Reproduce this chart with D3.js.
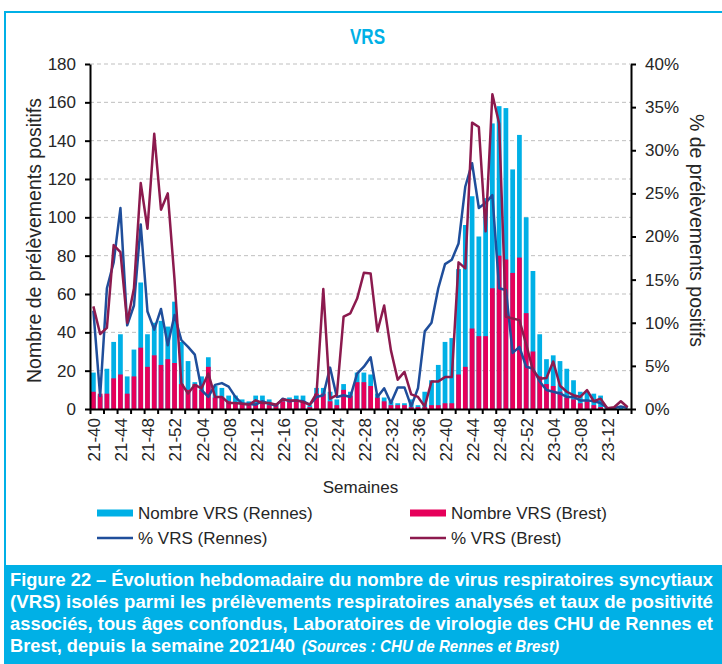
<!DOCTYPE html>
<html>
<head>
<meta charset="utf-8">
<script src="https://cdn.jsdelivr.net/npm/d3@7"></script>
<style>
  body { margin: 0; background: #fff; }
  svg { display: block; font-family: "Liberation Sans", Arial, sans-serif; }
</style>
</head>
<body>
<script>
'use strict';

const weeks = [
    '21-40','21-41','21-42','21-43','21-44','21-45','21-46','21-47','21-48','21-49','21-50','21-51','21-52',
    '22-01','22-02','22-03','22-04','22-05','22-06','22-07','22-08','22-09','22-10','22-11','22-12','22-13',
    '22-14','22-15','22-16','22-17','22-18','22-19','22-20','22-21','22-22','22-23','22-24','22-25','22-26',
    '22-27','22-28','22-29','22-30','22-31','22-32','22-33','22-34','22-35','22-36','22-37','22-38','22-39',
    '22-40','22-41','22-42','22-43','22-44','22-45','22-46','22-47','22-48','22-49','22-50','22-51','22-52',
    '23-01','23-02','23-03','23-04','23-05','23-06','23-07','23-08','23-09','23-10','23-11','23-12','23-13',
    '23-14','23-15'
];

const rennesCount = [
    19, 7, 21, 35, 39, 17, 31, 66, 39, 45,
    46, 43, 56, 35, 25, 14, 17, 27, 12, 11,
    7, 7, 5, 4, 7, 7, 5, 3, 5, 6,
    7, 7, 2, 11, 11, 9, 5, 13, 9, 19,
    19, 18, 8, 6, 4, 3, 3, 5, 2, 9,
    15, 23, 35, 37, 73, 96, 111, 90, 110, 149,
    158, 157, 125, 143, 100, 72, 39, 26, 28, 25,
    21, 15, 9, 9, 8, 7, 1, 1, 1, 0
];

const brestCount = [
    9, 8, 8, 16, 18, 8, 17, 32, 22, 28,
    23, 26, 24, 13, 10, 13, 10, 22, 6, 6,
    4, 3, 3, 2, 3, 3, 2, 2, 4, 4,
    4, 4, 1, 8, 8, 4, 2, 10, 7, 14,
    14, 12, 6, 4, 2, 2, 2, 1, 1, 1,
    2, 2, 3, 3, 18, 22, 42, 38, 38, 63,
    80, 78, 71, 79, 50, 30, 17, 13, 12, 9,
    6, 5, 3, 4, 2, 1, 0, 0, 0, 0
];

const rennesPct = [
    11.4, 1.5, 14, 17, 23.3, 9.7, 12, 21.4, 11.3, 9.2,
    11.6, 7.4, 10.9, 8, 7.2, 6.3, 2.2, 1.4, 2.8, 3,
    2.6, 1.4, 0.6, 0.6, 0.5, 0.9, 0.6, 0.4, 1.2, 0.9,
    1, 0.9, 0.5, 1.4, 1.6, 4.8, 1.4, 1.6, 1.4, 4.1,
    4.9, 6, 1.4, 2.4, 0.7, 2.5, 2.5, 0.3, 2.4, 9,
    10, 14, 16.8, 17.3, 19.2, 25.8, 28.5, 23.3, 23.9, 24.8,
    14, 13.8, 6.5, 7.2, 4.9, 4.7, 3.2, 2.2, 2, 1.8,
    1.4, 1.4, 1, 1, 0.9, 0.7, 0.1, 0.1, 0.3, 0.1
];

const brestPct = [
    11.9, 8.7, 9.4, 19, 18.2, 10, 14, 26.2, 20.9, 31.9,
    23.1, 25, 15, 3, 1.8, 2.8, 2.4, 4.1, 1.4, 1.4,
    0.7, 0.7, 0.6, 0.5, 1, 0.7, 0.7, 0.5, 1.1, 1,
    1, 0.8, 0.5, 1.8, 13.9, 1.2, 1.6, 10.7, 11.1, 12.8,
    15.8, 15.7, 9, 12, 6.8, 3.4, 4.3, 1.7, 1.4, 0.3,
    3.2, 3.2, 3.7, 3.7, 17, 16.3, 33.2, 32.7, 20.6, 36.5,
    33.1, 10.7, 10.5, 10.3, 7.5, 4.5, 3.5, 3.6, 5.5, 2.7,
    2, 1.6, 1.4, 2.2, 0.9, 1.2, 0.1, 0.2, 0.9, 0.2
];

const countTicks = [0, 20, 40, 60, 80, 100, 120, 140, 160, 180];
const pctTicks = [0, 5, 10, 15, 20, 25, 30, 35, 40];

const captionLines = [
    'Figure 22 – Évolution hebdomadaire du nombre de virus respiratoires syncytiaux',
    '(VRS) isolés parmi les prélèvements respiratoires analysés et taux de positivité',
    'associés, tous âges confondus, Laboratoires de virologie des CHU de Rennes et'
];
const captionLast = 'Brest, depuis la semaine 2021/40';
const captionSource = '(Sources : CHU de Rennes et Brest)';

const cyan = '#00b0e6';
const pink = '#e6005a';
const blueLine = '#1f4e9b';
const redLine = '#8c1a4e';
const textColor = '#262626';

const plotLeft = 90, plotRight = 631, plotTop = 64, plotBottom = 409;

const svg = d3.select('body').append('svg')
    .attr('width', 722)
    .attr('height', 664);

// frame + caption band
svg.append('rect')
    .attr('x', 5).attr('y', 12)
    .attr('width', 740).attr('height', 700)
    .attr('fill', 'none')
    .attr('stroke', cyan)
    .attr('stroke-width', 2);

svg.append('rect')
    .attr('x', 5).attr('y', 565)
    .attr('width', 730).attr('height', 110)
    .attr('fill', cyan);

svg.append('text')
    .attr('x', 350).attr('y', 44)
    .attr('textLength', 35)
    .attr('lengthAdjust', 'spacingAndGlyphs')
    .style('font-size', '22px')
    .style('font-weight', 'bold')
    .attr('fill', cyan)
    .text('VRS');

const x = d3.scaleBand()
    .domain(weeks)
    .range([plotLeft, plotRight])
    .paddingInner(0.3)
    .paddingOuter(0.15);

const xTicks = d3.scaleLinear()
    .domain([0, weeks.length])
    .range([plotLeft, plotRight]);

const yCount = d3.scaleLinear().domain([0, 180]).range([plotBottom, plotTop]);
const yPct = d3.scaleLinear().domain([0, 40]).range([plotBottom, plotTop]);

// gridlines
svg.append('g')
    .selectAll('line')
    .data(countTicks.filter(d => d > 0))
    .enter().append('line')
    .attr('x1', plotLeft).attr('x2', plotRight)
    .attr('y1', d => yCount(d)).attr('y2', d => yCount(d))
    .attr('stroke', '#bfbfbf')
    .attr('stroke-dasharray', '4,3');

// bars: Rennes behind, Brest in front
svg.append('g')
    .selectAll('rect')
    .data(rennesCount)
    .enter().append('rect')
    .attr('x', (d, i) => x(weeks[i]))
    .attr('width', x.bandwidth())
    .attr('y', d => yCount(d))
    .attr('height', d => plotBottom - yCount(d))
    .attr('fill', cyan);

svg.append('g')
    .selectAll('rect')
    .data(brestCount)
    .enter().append('rect')
    .attr('x', (d, i) => x(weeks[i]))
    .attr('width', x.bandwidth())
    .attr('y', d => yCount(d))
    .attr('height', d => plotBottom - yCount(d))
    .attr('fill', pink);

const pctLine = d3.line()
    .x((d, i) => x(weeks[i]) + x.bandwidth() / 2)
    .y(d => yPct(d));

svg.append('path')
    .datum(rennesPct)
    .attr('d', pctLine)
    .attr('fill', 'none')
    .attr('stroke', blueLine)
    .attr('stroke-width', 2.5)
    .attr('stroke-linejoin', 'round');

svg.append('path')
    .datum(brestPct)
    .attr('d', pctLine)
    .attr('fill', 'none')
    .attr('stroke', redLine)
    .attr('stroke-width', 2.5)
    .attr('stroke-linejoin', 'round');

// axes
function styleAxis(g)
{
    g.select('.domain').attr('stroke', '#000').attr('stroke-width', 2);
    g.selectAll('.tick line').attr('stroke', '#000').attr('stroke-width', 2);
    g.selectAll('.tick text')
        .attr('fill', textColor)
        .style('font-size', '17px')
        .style('font-family', '"Liberation Sans", Arial, sans-serif');
}

svg.append('g')
    .attr('transform', 'translate(' + plotLeft + ',0)')
    .call(d3.axisLeft(yCount).tickValues(countTicks).tickSize(5).tickPadding(9).tickSizeOuter(0))
    .call(styleAxis);

svg.append('g')
    .attr('transform', 'translate(' + plotRight + ',0)')
    .call(d3.axisRight(yPct).tickValues(pctTicks).tickSize(5).tickPadding(9).tickSizeOuter(0)
        .tickFormat(d => d + '%'))
    .call(styleAxis);

svg.append('g')
    .attr('transform', 'translate(0,' + plotBottom + ')')
    .call(d3.axisBottom(xTicks).tickValues(d3.range(0, weeks.length + 1, 2)).tickSize(5)
        .tickFormat('').tickSizeOuter(0))
    .call(styleAxis);

svg.append('g')
    .attr('transform', 'translate(0,' + plotBottom + ')')
    .call(d3.axisBottom(x).tickValues(weeks.filter((d, i) => i % 4 === 0)).tickSize(0).tickPadding(0))
    .call(styleAxis)
    .call(g => g.select('.domain').remove())
    .selectAll('.tick text')
    .attr('text-anchor', 'end')
    .attr('transform', 'translate(1,9) rotate(-90)')
    .attr('x', 0).attr('y', 0).attr('dy', '0.35em');

// axis titles
svg.append('text')
    .attr('transform', 'translate(34,' + ((plotTop + plotBottom) / 2 + 4) + ') rotate(-90)')
    .attr('text-anchor', 'middle')
    .attr('dy', '0.35em')
    .attr('fill', textColor)
    .style('font-size', '19.5px')
    .text('Nombre de prélèvements positifs');

svg.append('text')
    .attr('transform', 'translate(697,' + ((plotTop + plotBottom) / 2 - 6) + ') rotate(90)')
    .attr('text-anchor', 'middle')
    .attr('dy', '0.35em')
    .attr('fill', textColor)
    .style('font-size', '19.5px')
    .text('% de prélèvements positifs');

svg.append('text')
    .attr('x', (plotLeft + plotRight) / 2).attr('y', 493)
    .attr('text-anchor', 'middle')
    .attr('fill', textColor)
    .style('font-size', '17px')
    .text('Semaines');

// legend
const legendItems = [
    {label: 'Nombre VRS (Rennes)', color: cyan, type: 'bar', lx: 97, ly: 513},
    {label: 'Nombre VRS (Brest)', color: pink, type: 'bar', lx: 410, ly: 513},
    {label: '% VRS (Rennes)', color: blueLine, type: 'line', lx: 97, ly: 538},
    {label: '% VRS (Brest)', color: redLine, type: 'line', lx: 410, ly: 538}
];

const legend = svg.append('g')
    .selectAll('g')
    .data(legendItems)
    .enter().append('g')
    .attr('transform', d => 'translate(' + d.lx + ',' + d.ly + ')');

legend.append('line')
    .attr('x1', 0).attr('x2', 36)
    .attr('stroke', d => d.color)
    .attr('stroke-width', d => (d.type === 'bar') ? 7 : 2.5);

legend.append('text')
    .attr('x', 41)
    .attr('dy', '0.35em')
    .attr('fill', textColor)
    .style('font-size', '17px')
    .text(d => d.label);

// caption
const caption = svg.append('g')
    .attr('fill', '#fff')
    .style('font-weight', 'bold')
    .style('font-size', '18px');

caption.selectAll('text.line')
    .data(captionLines)
    .enter().append('text')
    .attr('class', 'line')
    .attr('x', 10)
    .attr('y', (d, i) => 586 + i * 22)
    .attr('textLength', 703)
    .attr('lengthAdjust', 'spacingAndGlyphs')
    .text(d => d);

caption.append('text')
    .attr('x', 10).attr('y', 652)
    .attr('textLength', 285)
    .attr('lengthAdjust', 'spacingAndGlyphs')
    .text(captionLast);

caption.append('text')
    .attr('x', 302).attr('y', 652)
    .attr('textLength', 257)
    .attr('lengthAdjust', 'spacingAndGlyphs')
    .style('font-style', 'italic')
    .style('font-size', '17px')
    .text(captionSource);
</script>
</body>
</html>
